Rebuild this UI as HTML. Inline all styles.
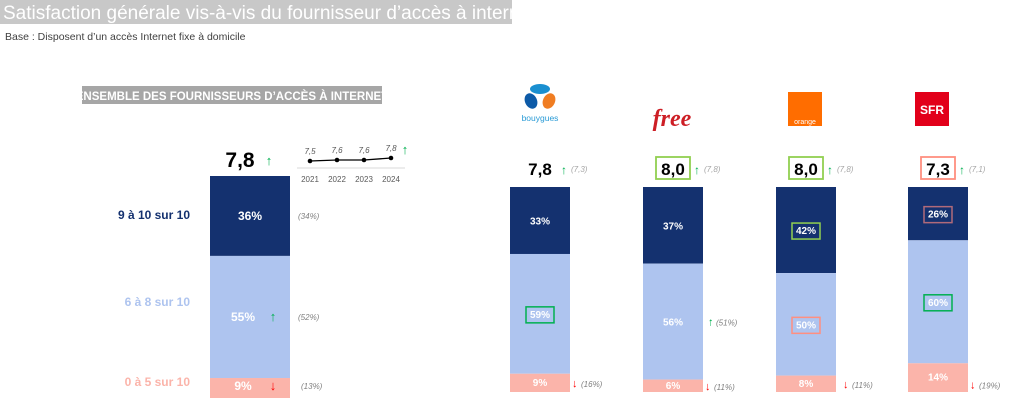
<!DOCTYPE html>
<html><head><meta charset="utf-8"><style>
body{margin:0;width:1025px;height:413px;background:#fff;overflow:hidden;font-family:"Liberation Sans",sans-serif}
svg{position:absolute;left:0;top:0}
</style></head><body>
<svg id="c" width="1025" height="413" xmlns="http://www.w3.org/2000/svg" font-family="Liberation Sans, sans-serif">
<rect x="0" y="0" width="512" height="24" fill="#c8c8c8"/>
<text x="3" y="19" font-size="19" fill="#fff">Satisfaction générale vis-à-vis du fournisseur d’accès à internet</text>
<text x="5" y="40" font-size="10.5" fill="#404040">Base : Disposent d’un accès Internet fixe à domicile</text>
<rect x="82" y="86" width="300" height="18" fill="#a6a6a6"/>
<text x="232" y="100" font-size="11.5" font-weight="bold" fill="#fff" text-anchor="middle">ENSEMBLE DES FOURNISSEURS D’ACCÈS À INTERNET</text>
<text x="190" y="219" font-size="12" font-weight="bold" fill="#14316f" text-anchor="end">9 à 10 sur 10</text>
<text x="190" y="306" font-size="12" font-weight="bold" fill="#aec4ef" text-anchor="end">6 à 8 sur 10</text>
<text x="190" y="386" font-size="12" font-weight="bold" fill="#fbb4aa" text-anchor="end">0 à 5 sur 10</text>
<text x="240" y="167" font-size="21" font-weight="bold" fill="#000" text-anchor="middle">7,8</text>
<text x="269" y="165" font-size="13" font-weight="bold" fill="#00b050" text-anchor="middle">↑</text>
<line x1="297" y1="168" x2="405" y2="168" stroke="#d9d9d9"/>
<g id="trend"></g>
<text x="405" y="154" font-size="13" font-weight="bold" fill="#00b050" text-anchor="middle">↑</text>
<g id="bars"></g>
<!-- logos -->
<g>
<ellipse cx="540" cy="89" rx="10" ry="5" fill="#1a8fd0"/>
<ellipse cx="531" cy="101" rx="6" ry="8" fill="#0d5aa7" transform="rotate(-25 531 101)"/>
<ellipse cx="549" cy="101" rx="6" ry="8" fill="#f07d22" transform="rotate(25 549 101)"/>
<text x="540" y="121" font-size="8.5" fill="#2a9bd6" text-anchor="middle">bouygues</text>
</g>
<text x="672" y="126" font-size="24" font-style="italic" font-weight="bold" fill="#cd1e25" text-anchor="middle" font-family="Liberation Serif, serif">free</text>
<g><rect x="788" y="92" width="34" height="34" fill="#ff6d00"/><text x="805" y="124" font-size="7" fill="#fff" text-anchor="middle">orange</text></g>
<g><rect x="915" y="92" width="34" height="34" fill="#e2001a"/><text x="932" y="114" font-size="12" font-weight="bold" fill="#fff" text-anchor="middle">SFR</text></g>
</svg>
<script>
const trendYears=["2021","2022","2023","2024"];
const trendValues=[7.5,7.6,7.6,7.8];
const overallValues=[36,55,9];
const overallPrev=["(34%)","(52%)","(13%)"];
const providers=["bouygues","free","orange","sfr"];
const highValues=[33,37,42,26];
const midValues=[59,56,50,60];
const lowValues=[9,6,8,14];
const scores=["7,8","8,0","8,0","7,3"];
const prevScores=["(7,3)","(7,8)","(7,8)","(7,1)"];
const prevMid=["","(51%)","",""];
const prevLow=["(16%)","(11%)","(11%)","(19%)"];
const NS="http://www.w3.org/2000/svg";
function mk(p,t,a,txt){const e=document.createElementNS(NS,t);for(const k in a)e.setAttribute(k,a[k]);if(txt!=null)e.textContent=txt;p.appendChild(e);return e;}
// trend
const tg=document.getElementById('trend');
const tx=i=>310+i*27, ty=v=>161-(v-7.5)*10;
let pts=trendValues.map((v,i)=>tx(i)+","+ty(v)).join(" ");
let pl=mk(tg,'polyline',{points:pts,fill:"none",stroke:"#000","stroke-width":1.3});


trendValues.forEach((v,i)=>{
 let c=mk(tg,'circle',{cx:tx(i),cy:ty(v),r:2.3,fill:"#000"});
 
 
 let l=mk(tg,'text',{x:tx(i),y:ty(v)-7,"font-size":8,fill:"#595959","text-anchor":"middle","font-style":"italic"},String(v).replace('.',','));
 
 
 let y=mk(tg,'text',{x:tx(i),y:182,"font-size":8,fill:"#595959","text-anchor":"middle"},trendYears[i]);
 
 
});
const bg=document.getElementById('bars');
const colors=["#14316f","#aec4ef","#fbb4aa"];
function stack(x,w,top,h,vals,name){
 const tot=vals.reduce((a,b)=>a+b,0);let y=top;const segs=[];
 vals.forEach((v,i)=>{const hh=v/tot*h;
  let r=mk(bg,'rect',{x:x,y:y,width:w,height:hh,fill:colors[i]});
  
  
  segs.push([y,hh]);y+=hh;});
 return segs;
}
// overall
let s=stack(210,80,176,222,overallValues,'overall');
const arrows=["","↑","↓"],acol=["","#00b050","#ff0000"];
overallValues.forEach((v,i)=>{
 const cy=s[i][0]+s[i][1]/2+(i==2?2:4);
 let t=mk(bg,'text',{x:i==0?250:243,y:cy,"font-size":12,"font-weight":"bold",fill:"#fff","text-anchor":"middle"},v+"%");
 
 
 if(arrows[i]){let a=mk(bg,'text',{x:273,y:cy,"font-size":13,"font-weight":"bold",fill:acol[i],"text-anchor":"middle"},arrows[i]);
  
  }
 let p=mk(bg,'text',{x:i==2?301:298,y:cy-1,"font-size":8,fill:"#7f7f7f","font-style":"italic"},overallPrev[i]);
 
 
});
const bx=[510,643,776,908];
const scoreBox=[null,"#92d050","#92d050","#ff8f80"];
const segBox=[[null,"#00b050",null],[null,null,null],["#92d050","#ff8f80",null],["#b06a7a","#00b050",null]];
providers.forEach((p,k)=>{
 const x=bx[k],w=60,cx=x+30;
 const ss=stack(x,w,187,205,[highValues[k],midValues[k],lowValues[k]],p);
 [highValues[k],midValues[k],lowValues[k]].forEach((v,i)=>{
  const cy=ss[i][0]+ss[i][1]/2+(i==2?3:4);
  if(segBox[k][i]){let b=mk(bg,'rect',{x:cx-14,y:cy-11,width:28,height:16,fill:"none",stroke:segBox[k][i],"stroke-width":1.5});
   
   }
  let t=mk(bg,'text',{x:cx,y:cy,"font-size":10,"font-weight":"bold",fill:"#fff","text-anchor":"middle"},v+"%");
  
  
 });
 if(prevMid[k]){const cy=ss[1][0]+ss[1][1]/2+4;
  let a=mk(bg,'text',{x:x+65,y:cy,"font-size":11,"font-weight":"bold",fill:"#00b050"},"↑");
  
  
  let t=mk(bg,'text',{x:x+73,y:cy,"font-size":8,fill:"#7f7f7f","font-style":"italic"},prevMid[k]);
  
  }
 const ly=ss[2][0]+ss[2][1]/2+4+(k==3?7:0);
 let a=mk(bg,'text',{x:x+w+2+(k==2?5:0),y:ly,"font-size":11,"font-weight":"bold",fill:"#ff0000"},"↓");
 
 
 let lt=mk(bg,'text',{x:x+w+11+(k==2?5:0),y:ly,"font-size":8,fill:"#7f7f7f","font-style":"italic"},prevLow[k]);
 
 
 // score
 if(scoreBox[k]){let b=mk(bg,'rect',{x:cx-17,y:157,width:34,height:22,fill:"none",stroke:scoreBox[k],"stroke-width":1.8});
  
  }
 let sc=mk(bg,'text',{x:cx,y:175,"font-size":17,"font-weight":"bold",fill:"#000","text-anchor":"middle"},scores[k]);
 
 
 let sa=mk(bg,'text',{x:cx+24,y:174,"font-size":12,"font-weight":"bold",fill:"#00b050","text-anchor":"middle"},"↑");
 
 
 let sp=mk(bg,'text',{x:cx+31,y:172,"font-size":8,fill:"#a6a6a6","font-style":"italic"},prevScores[k]);
 
 
});
</script>
</body></html>
